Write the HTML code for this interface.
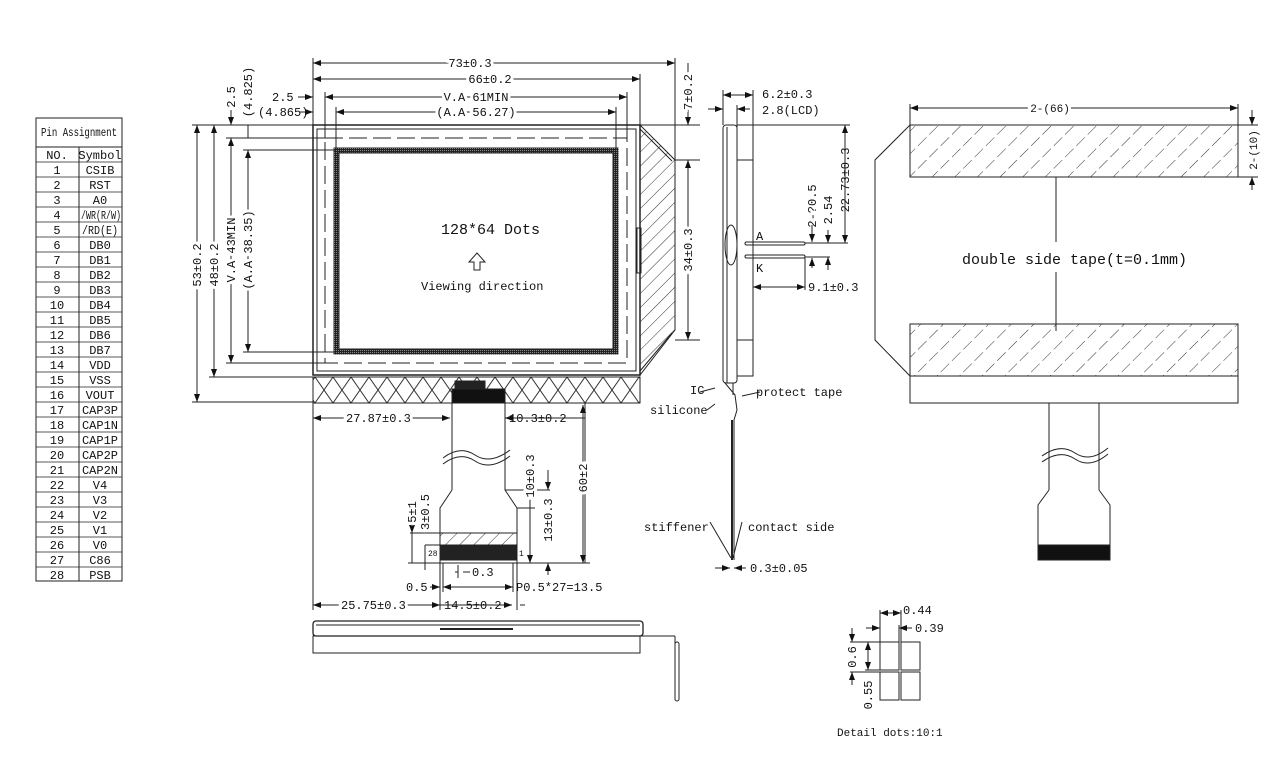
<!DOCTYPE html>
<html><head><meta charset="utf-8"><style>
body{margin:0;background:#fff}
svg text{font-family:"Liberation Mono","Noto Sans CJK SC",monospace;font-size:12px;fill:#111}
</style></head><body>
<svg width="1283" height="759" viewBox="0 0 1283 759" xmlns="http://www.w3.org/2000/svg">
<defs>
<pattern id="h" width="10" height="10" patternUnits="userSpaceOnUse" patternTransform="rotate(45)"><line x1="0" y1="0" x2="0" y2="10" stroke="#333" stroke-width="1"/></pattern>
<pattern id="x" width="18" height="26" patternUnits="userSpaceOnUse"><path d="M0 0L18 26M18 0L0 26" stroke="#333" stroke-width="1"/></pattern>
<pattern id="t" width="16" height="16" patternUnits="userSpaceOnUse" patternTransform="rotate(45)"><line x1="0" y1="2" x2="0" y2="14" stroke="#333"/></pattern>
<pattern id="d" width="2" height="2" patternUnits="userSpaceOnUse"><rect width="2" height="2" fill="#222"/><rect width="1" height="1" fill="#888"/></pattern>
<marker id="a" markerWidth="8" markerHeight="6" refX="8" refY="3" orient="auto-start-reverse"><path d="M0 0L8 3L0 6Z" fill="#111"/></marker>
</defs>
<g stroke="#222" fill="none" stroke-width="1">
<rect x="36" y="118" width="86" height="463"/>
<line x1="36" y1="147" x2="122" y2="147"/>
<line x1="79" y1="147" x2="79" y2="581"/>
</g>
<g stroke="#222" stroke-width="0.8">
<line x1="36" y1="162" x2="122" y2="162"/>
<line x1="36" y1="177" x2="122" y2="177"/><line x1="36" y1="192" x2="122" y2="192"/><line x1="36" y1="207" x2="122" y2="207"/><line x1="36" y1="222" x2="122" y2="222"/><line x1="36" y1="237" x2="122" y2="237"/><line x1="36" y1="252" x2="122" y2="252"/><line x1="36" y1="267" x2="122" y2="267"/><line x1="36" y1="282" x2="122" y2="282"/><line x1="36" y1="297" x2="122" y2="297"/><line x1="36" y1="312" x2="122" y2="312"/><line x1="36" y1="327" x2="122" y2="327"/><line x1="36" y1="342" x2="122" y2="342"/><line x1="36" y1="357" x2="122" y2="357"/><line x1="36" y1="372" x2="122" y2="372"/><line x1="36" y1="387" x2="122" y2="387"/><line x1="36" y1="402" x2="122" y2="402"/><line x1="36" y1="417" x2="122" y2="417"/><line x1="36" y1="432" x2="122" y2="432"/><line x1="36" y1="447" x2="122" y2="447"/><line x1="36" y1="462" x2="122" y2="462"/><line x1="36" y1="477" x2="122" y2="477"/><line x1="36" y1="492" x2="122" y2="492"/><line x1="36" y1="507" x2="122" y2="507"/><line x1="36" y1="522" x2="122" y2="522"/><line x1="36" y1="537" x2="122" y2="537"/><line x1="36" y1="552" x2="122" y2="552"/><line x1="36" y1="567" x2="122" y2="567"/>
</g>
<g style="font-size:9px" text-anchor="middle">
<text x="41" y="136" text-anchor="start" textLength="76" lengthAdjust="spacingAndGlyphs">Pin Assignment</text>
<text x="57" y="159">NO.</text><text x="100" y="159">Symbol</text>
<text x="57" y="174">1</text><text x="100" y="174">CSIB</text>
<text x="57" y="189">2</text><text x="100" y="189">RST</text>
<text x="57" y="204">3</text><text x="100" y="204">A0</text>
<text x="57" y="219">4</text><text x="81" y="219" text-anchor="start" textLength="40" lengthAdjust="spacingAndGlyphs">/WR(R/W)</text>
<text x="57" y="234">5</text><text x="82" y="234" text-anchor="start" textLength="36" lengthAdjust="spacingAndGlyphs">/RD(E)</text>
<text x="57" y="249">6</text><text x="100" y="249">DB0</text>
<text x="57" y="264">7</text><text x="100" y="264">DB1</text>
<text x="57" y="279">8</text><text x="100" y="279">DB2</text>
<text x="57" y="294">9</text><text x="100" y="294">DB3</text>
<text x="57" y="309">10</text><text x="100" y="309">DB4</text>
<text x="57" y="324">11</text><text x="100" y="324">DB5</text>
<text x="57" y="339">12</text><text x="100" y="339">DB6</text>
<text x="57" y="354">13</text><text x="100" y="354">DB7</text>
<text x="57" y="369">14</text><text x="100" y="369">VDD</text>
<text x="57" y="384">15</text><text x="100" y="384">VSS</text>
<text x="57" y="399">16</text><text x="100" y="399">VOUT</text>
<text x="57" y="414">17</text><text x="100" y="414">CAP3P</text>
<text x="57" y="429">18</text><text x="100" y="429">CAP1N</text>
<text x="57" y="444">19</text><text x="100" y="444">CAP1P</text>
<text x="57" y="459">20</text><text x="100" y="459">CAP2P</text>
<text x="57" y="474">21</text><text x="100" y="474">CAP2N</text>
<text x="57" y="489">22</text><text x="100" y="489">V4</text>
<text x="57" y="504">23</text><text x="100" y="504">V3</text>
<text x="57" y="519">24</text><text x="100" y="519">V2</text>
<text x="57" y="534">25</text><text x="100" y="534">V1</text>
<text x="57" y="549">26</text><text x="100" y="549">V0</text>
<text x="57" y="564">27</text><text x="100" y="564">C86</text>
<text x="57" y="579">28</text><text x="100" y="579">PSB</text>
</g>

<g stroke="#222" fill="none" stroke-width="1">
<rect x="313" y="125" width="327" height="250" stroke-width="1.5"/>
<rect x="317" y="129" width="319" height="242"/>
<path d="M640 125L675 160L675 330L640 375Z" fill="url(#h)"/>
<path d="M640 129L672 161M640 371L672 333" />
<rect x="637" y="228" width="4" height="45"/>
<rect x="313" y="377" width="327" height="26" fill="url(#x)"/>
<rect x="325" y="138" width="302" height="225" stroke-dasharray="18,6"/>
<rect x="336" y="150" width="280" height="202" stroke="url(#d)" stroke-width="5"/>
<rect x="339" y="153" width="274" height="196" stroke="#222" stroke-width="1"/>
<rect x="455" y="381" width="30" height="10" fill="#222"/>
<rect x="452" y="389" width="53" height="14" fill="#111"/>
<line x1="313" y1="63" x2="675" y2="63" marker-start="url(#a)" marker-end="url(#a)"/>
<line x1="313" y1="79" x2="640" y2="79" marker-start="url(#a)" marker-end="url(#a)"/>
<line x1="325" y1="97" x2="627" y2="97" marker-start="url(#a)" marker-end="url(#a)"/>
<line x1="336" y1="112" x2="616" y2="112" marker-start="url(#a)" marker-end="url(#a)"/>
<line x1="298" y1="97" x2="313" y2="97" marker-end="url(#a)"/>
<line x1="300" y1="112" x2="313" y2="112" marker-end="url(#a)"/>
<line x1="313" y1="58" x2="313" y2="125"/><line x1="675" y1="58" x2="675" y2="160"/>
<line x1="640" y1="74" x2="640" y2="125"/><line x1="325" y1="92" x2="325" y2="138"/><line x1="627" y1="92" x2="627" y2="138"/>
<line x1="336" y1="107" x2="336" y2="150"/><line x1="616" y1="107" x2="616" y2="150"/>
<line x1="192" y1="125" x2="313" y2="125"/><line x1="192" y1="402" x2="313" y2="402"/>
<line x1="209" y1="377" x2="313" y2="377"/>
<line x1="226" y1="138" x2="325" y2="138"/><line x1="226" y1="363" x2="325" y2="363"/>
<line x1="243" y1="150" x2="336" y2="150"/><line x1="243" y1="352" x2="336" y2="352"/>
<line x1="197" y1="125" x2="197" y2="402" marker-start="url(#a)" marker-end="url(#a)"/>
<line x1="214" y1="125" x2="214" y2="377" marker-start="url(#a)" marker-end="url(#a)"/>
<line x1="231" y1="138" x2="231" y2="363" marker-start="url(#a)" marker-end="url(#a)"/>
<line x1="248" y1="150" x2="248" y2="352" marker-start="url(#a)" marker-end="url(#a)"/>
<line x1="231" y1="110" x2="231" y2="125" marker-end="url(#a)"/>
<line x1="248" y1="125" x2="248" y2="138"/>
<line x1="640" y1="125" x2="700" y2="125"/>
<line x1="675" y1="160" x2="700" y2="160"/><line x1="675" y1="340" x2="700" y2="340"/>
<line x1="688" y1="63" x2="688" y2="125" marker-end="url(#a)"/>
<line x1="688" y1="160" x2="688" y2="340" marker-start="url(#a)" marker-end="url(#a)"/>
<line x1="452" y1="403" x2="452" y2="490"/><line x1="505" y1="403" x2="505" y2="490"/>
<path d="M452 490L440 508L440 563M505 490L517 508L517 563M440 563L517 563"/>
<path d="M443 458Q460 445 475 455T510 450M443 464Q460 451 475 461T510 456" stroke-width="1"/>
<rect x="440" y="533" width="77" height="12" fill="url(#h)"/>
<rect x="440" y="545" width="77" height="15" fill="#222"/>
<line x1="313" y1="403" x2="313" y2="610"/>
<line x1="313" y1="418" x2="450" y2="418" marker-start="url(#a)" marker-end="url(#a)"/>
<line x1="505" y1="418" x2="585" y2="418" marker-start="url(#a)"/>
<line x1="585" y1="403" x2="585" y2="563"/>
<line x1="517" y1="563" x2="590" y2="563"/>
<line x1="583" y1="405" x2="583" y2="563" marker-start="url(#a)" marker-end="url(#a)"/>
<line x1="505" y1="490" x2="550" y2="490"/><line x1="517" y1="508" x2="535" y2="508"/>
<line x1="530" y1="490" x2="530" y2="563" marker-start="url(#a)" marker-end="url(#a)"/>
<line x1="548" y1="470" x2="548" y2="490" marker-end="url(#a)"/><line x1="548" y1="563" x2="548" y2="575" marker-start="url(#a)"/>
<line x1="410" y1="533" x2="440" y2="533"/><line x1="408" y1="563" x2="440" y2="563"/>
<line x1="412" y1="520" x2="412" y2="533" marker-end="url(#a)"/><line x1="412" y1="533" x2="412" y2="563"/>
<line x1="425" y1="545" x2="440" y2="545"/>
<line x1="425" y1="545" x2="425" y2="570"/>
<line x1="440" y1="563" x2="440" y2="610"/><line x1="517" y1="563" x2="517" y2="610"/>
<line x1="443" y1="563" x2="443" y2="592"/><line x1="513" y1="563" x2="513" y2="592"/>
<line x1="443" y1="587" x2="513" y2="587" marker-start="url(#a)" marker-end="url(#a)"/>
<line x1="430" y1="587" x2="440" y2="587" marker-end="url(#a)"/>
<line x1="455" y1="572" x2="458" y2="572"/><line x1="458" y1="565" x2="458" y2="578"/><line x1="463" y1="572" x2="470" y2="572"/>
<line x1="313" y1="605" x2="440" y2="605" marker-start="url(#a)" marker-end="url(#a)"/>
<line x1="440" y1="605" x2="512" y2="605" marker-end="url(#a)"/>
<line x1="520" y1="605" x2="525" y2="605"/>
</g>
<text x="441" y="234" style="font-size:15px">128*64 Dots</text>
<path d="M477 253L469 262L474 262L474 270L480 270L480 262L485 262Z" fill="none" stroke="#222"/>
<text x="421" y="290">Viewing direction</text>
<g stroke="#fff" stroke-width="6" paint-order="stroke">
<text x="470" y="67" text-anchor="middle">73±0.3</text>
<text x="490" y="83" text-anchor="middle">66±0.2</text>
<text x="476" y="101" text-anchor="middle">V.A 61MIN</text>
<text x="476" y="116" text-anchor="middle">(A.A 56.27)</text>
</g>
<text x="272" y="101">2.5</text>
<text x="258" y="116">(4.865)</text>
<g text-anchor="middle" stroke="#fff" stroke-width="6" paint-order="stroke">
<text transform="translate(201,265) rotate(-90)">53±0.2</text>
<text transform="translate(218,265) rotate(-90)">48±0.2</text>
<text transform="translate(235,250) rotate(-90)">V.A 43MIN</text>
<text transform="translate(252,250) rotate(-90)">(A.A 38.35)</text>
<text transform="translate(235,97) rotate(-90)">2.5</text>
<text transform="translate(252,92) rotate(-90)">(4.825)</text>
<text transform="translate(692,92) rotate(-90)">7±0.2</text>
<text transform="translate(692,250) rotate(-90)">34±0.3</text>
<text transform="translate(587,478) rotate(-90)">60±2</text>
<text transform="translate(534,476) rotate(-90)">10±0.3</text>
<text transform="translate(552,520) rotate(-90)">13±0.3</text>
<text transform="translate(416,512) rotate(-90)">5±1</text>
<text transform="translate(429,512) rotate(-90)">3±0.5</text>
</g>
<text x="346" y="422" stroke="#fff" stroke-width="6" paint-order="stroke">27.87±0.3</text>
<text x="509" y="422">10.3±0.2</text>
<text x="428" y="556" style="font-size:8px">28</text>
<text x="519" y="556" style="font-size:8px">1</text>
<text x="472" y="576">0.3</text>
<text x="406" y="591">0.5</text>
<text x="516" y="591">P0.5*27=13.5</text>
<text x="341" y="609" stroke="#fff" stroke-width="6" paint-order="stroke">25.75±0.3</text>
<text x="444" y="609">14.5±0.2</text>

<g stroke="#222" fill="none">
<rect x="313" y="621" width="330" height="15" rx="3" stroke-width="1.3"/>
<line x1="316" y1="625" x2="640" y2="625"/>
<path d="M440 629L513 629" stroke-width="2"/>
<rect x="313" y="636" width="327" height="17"/>
<line x1="640" y1="636" x2="675" y2="636"/><line x1="675" y1="636" x2="675" y2="700"/>
<rect x="675" y="642" width="4" height="59" rx="2"/>
</g>

<g stroke="#222" fill="none">
<rect x="723" y="125" width="14" height="258" rx="3"/>
<line x1="727" y1="127" x2="727" y2="383"/>
<rect x="737" y="125" width="16" height="251"/>
<line x1="737" y1="160" x2="753" y2="160"/><line x1="737" y1="340" x2="753" y2="340"/>
<ellipse cx="731" cy="245" rx="6" ry="20"/>
<rect x="745" y="242" width="60" height="3" rx="1.5"/>
<rect x="745" y="255" width="60" height="3" rx="1.5"/>
<line x1="753" y1="125" x2="850" y2="125"/>
<line x1="723" y1="90" x2="723" y2="125"/><line x1="753" y1="90" x2="753" y2="125"/><line x1="737" y1="105" x2="737" y2="125"/>
<line x1="723" y1="95" x2="753" y2="95" marker-start="url(#a)" marker-end="url(#a)"/>
<line x1="708" y1="109" x2="723" y2="109" marker-end="url(#a)"/><line x1="750" y1="109" x2="737" y2="109" marker-end="url(#a)"/>
<line x1="845" y1="125" x2="845" y2="243" marker-start="url(#a)" marker-end="url(#a)"/>
<line x1="805" y1="243" x2="848" y2="243"/>
<line x1="812" y1="225" x2="812" y2="242" marker-end="url(#a)"/><line x1="812" y1="258" x2="812" y2="268" marker-start="url(#a)"/>
<line x1="828" y1="230" x2="828" y2="243" marker-end="url(#a)"/><line x1="828" y1="257" x2="828" y2="270" marker-start="url(#a)"/>
<line x1="805" y1="257" x2="830" y2="257"/>
<line x1="805" y1="258" x2="805" y2="290"/>
<line x1="753" y1="287" x2="805" y2="287" marker-start="url(#a)" marker-end="url(#a)"/>
<path d="M725 383L735 395L737 410L734 420L734 560" />
<path d="M733 383L733 395" />
<line x1="732" y1="420" x2="732" y2="560" stroke-width="2"/>
<path d="M700 392L715 388M707 410L715 404M760 392L742 396M710 522L731 558M742 522L733 558"/>
<line x1="715" y1="568" x2="730" y2="568" marker-end="url(#a)"/><line x1="746" y1="568" x2="734" y2="568" marker-end="url(#a)"/>
</g>
<text x="762" y="98">6.2±0.3</text>
<text x="762" y="114">2.8(LCD)</text>
<text x="756" y="240">A</text>
<text x="756" y="272">K</text>
<text x="808" y="291">9.1±0.3</text>
<text x="690" y="394">IC</text>
<text x="650" y="414">silicone</text>
<text x="756" y="396">protect tape</text>
<text x="644" y="531">stiffener</text>
<text x="748" y="531">contact side</text>
<text x="750" y="572">0.3±0.05</text>
<g text-anchor="middle">
<text transform="translate(816,206) rotate(-90)">2-?0.5</text>
<text transform="translate(832,210) rotate(-90)">2.54</text>
<text transform="translate(849,180) rotate(-90)">22.73±0.3</text>
</g>

<g stroke="#222" fill="none">
<path d="M910 125L875 160L875 340L910 376"/>
<rect x="910" y="125" width="328" height="52" fill="url(#t)"/>
<rect x="910" y="324" width="328" height="52" fill="url(#t)"/>
<rect x="910" y="376" width="328" height="27"/>
<line x1="1056" y1="177" x2="1056" y2="242"/><line x1="1056" y1="272" x2="1056" y2="331"/>
<line x1="910" y1="108" x2="1238" y2="108" marker-start="url(#a)" marker-end="url(#a)"/>
<line x1="910" y1="104" x2="910" y2="125"/><line x1="1238" y1="104" x2="1238" y2="125"/>
<line x1="1238" y1="125" x2="1258" y2="125"/><line x1="1238" y1="177" x2="1258" y2="177"/>
<line x1="1252" y1="110" x2="1252" y2="125" marker-end="url(#a)"/><line x1="1252" y1="190" x2="1252" y2="177" marker-end="url(#a)"/>
<line x1="1049" y1="403" x2="1049" y2="490"/><line x1="1099" y1="403" x2="1099" y2="490"/>
<path d="M1049 490L1038 505L1038 560L1110 560L1110 505L1099 490"/>
<path d="M1042 456Q1060 443 1075 453T1108 448M1042 462Q1060 449 1075 459T1108 454"/>
<rect x="1038" y="545" width="72" height="15" fill="#111"/>
</g>
<text x="1050" y="112" style="font-size:11px" text-anchor="middle" stroke="#fff" stroke-width="6" paint-order="stroke">2-(66)</text>
<text transform="translate(1257,150) rotate(-90)" text-anchor="middle" style="font-size:11px">2-(10)</text>
<text x="962" y="264" style="font-size:15px" stroke="#fff" stroke-width="8" paint-order="stroke">double side tape(t=0.1mm)</text>

<g stroke="#222" fill="none">
<rect x="880" y="642" width="19" height="28"/><rect x="901" y="642" width="19" height="28"/>
<rect x="880" y="672" width="19" height="28"/><rect x="901" y="672" width="19" height="28"/>
<line x1="880" y1="610" x2="880" y2="642"/><line x1="901" y1="610" x2="901" y2="642"/><line x1="899" y1="625" x2="899" y2="642"/>
<line x1="880" y1="613" x2="901" y2="613" marker-start="url(#a)" marker-end="url(#a)"/>
<line x1="866" y1="628" x2="880" y2="628" marker-end="url(#a)"/><line x1="912" y1="628" x2="899" y2="628" marker-end="url(#a)"/>
<line x1="850" y1="642" x2="880" y2="642"/><line x1="850" y1="672" x2="880" y2="672"/><line x1="865" y1="670" x2="880" y2="670"/>
<line x1="852" y1="628" x2="852" y2="642" marker-end="url(#a)"/><line x1="852" y1="685" x2="852" y2="672" marker-end="url(#a)"/>
<line x1="868" y1="642" x2="868" y2="670" marker-start="url(#a)" marker-end="url(#a)"/>
</g>
<text x="903" y="614">0.44</text>
<text x="915" y="632">0.39</text>
<text transform="translate(856,657) rotate(-90)" text-anchor="middle">0.6</text>
<text transform="translate(872,695) rotate(-90)" text-anchor="middle">0.55</text>
<text x="837" y="736" style="font-size:11px">Detail dots:10:1</text>
</svg>
</body></html>
